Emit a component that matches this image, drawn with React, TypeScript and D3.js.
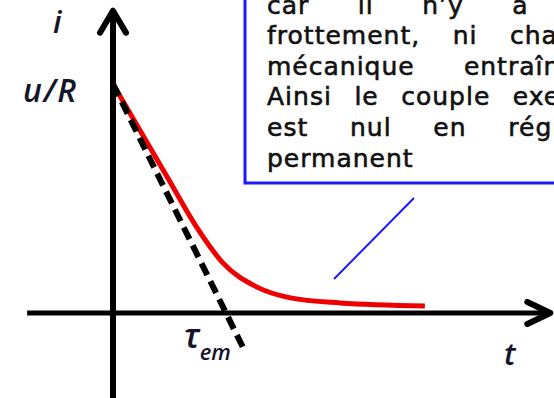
import React, { useEffect, useRef } from "react";
import * as d3 from "d3";

// Current response i(t) after a voltage step: read-off points of the drawn decay
const tValues = [0, 0.49, 0.74, 0.97, 1.27, 1.57, 2.01, 2.76];
const iValues = [1.0, 0.585, 0.375, 0.22, 0.114, 0.066, 0.044, 0.031];

// Tangent at the origin: i = u/R (1 - t / tau_em)
const tangentT = [0, 1.15];
const tangentI = [1, -0.15];

// Axis extents (in units of tau_em and u/R)
const tAxis = [-0.76, 3.87];
const iAxis = [-0.45, 1.32];

// Callout text, one array of words per justified line
const noteLines: string[][] = [
  ["car", "il", "n’y", "a", "ni"],
  ["frottement,", "ni", "charge"],
  ["mécanique", "entraînée."],
  ["Ainsi", "le", "couple", "exercé"],
  ["est", "nul", "en", "régime"],
  ["permanent"],
];

const W = 554;
const H = 398;

export default function App() {
  const ref = useRef<SVGSVGElement | null>(null);

  useEffect(() => {
    const svg = d3.select(ref.current);
    svg.selectAll("*").remove();

    const x = d3.scaleLinear().domain([0, 1]).range([113, 226]);
    const y = d3.scaleLinear().domain([0, 1]).range([313, 84]);

    // ---- callout box (extends beyond the top/right edges) ----
    const boxLeft = 245;
    const boxBottom = 183;
    const textLeft = 267;
    const textRight = 602;
    svg
      .append("rect")
      .attr("x", boxLeft)
      .attr("y", -20)
      .attr("width", 420)
      .attr("height", boxBottom + 20)
      .attr("fill", "#fff")
      .attr("stroke", "#1a1aff")
      .attr("stroke-width", 3);

    const noteG = svg
      .append("g")
      .attr("font-family", "'DejaVu Sans', Verdana, sans-serif")
      .attr("font-size", 25)
      .attr("letter-spacing", 1)
      .attr("fill", "#111")
      .attr("stroke", "#111")
      .attr("stroke-width", 0.6);

    noteLines.forEach((words, li) => {
      const baseline = 13.5 + li * 30.6;
      const nodes = words.map((w) =>
        noteG.append("text").attr("y", baseline).text(w)
      );
      const widths = nodes.map((n) => (n.node() as SVGTextElement).getBBox().width);
      const total = d3.sum(widths);
      const last = li === noteLines.length - 1;
      const gap =
        last || words.length < 2
          ? 8
          : (textRight - textLeft - total) / (words.length - 1);
      let cx = textLeft;
      nodes.forEach((n, k) => {
        n.attr("x", cx);
        cx += widths[k] + gap;
      });
    });

    // pointer from the callout to the steady-state part of the curve
    svg
      .append("line")
      .attr("x1", 414)
      .attr("y1", 198)
      .attr("x2", 334)
      .attr("y2", 279)
      .attr("stroke", "#1a1aff")
      .attr("stroke-width", 2);

    // ---- axes ----
    const axisG = svg
      .append("g")
      .attr("stroke", "#000")
      .attr("fill", "none")
      .attr("stroke-linecap", "round")
      .attr("stroke-linejoin", "round");

    const x0 = x(0);
    const y0 = y(0);
    const xEnd = x(tAxis[1]);
    const yTop = y(iAxis[1]);

    axisG
      .append("line")
      .attr("x1", x(tAxis[0]))
      .attr("y1", y0)
      .attr("x2", xEnd - 2)
      .attr("y2", y0)
      .attr("stroke-width", 5)
      .attr("stroke-linecap", "butt");
    axisG
      .append("path")
      .attr("d", `M${xEnd - 23},${y0 - 11} L${xEnd},${y0} L${xEnd - 23},${y0 + 11}`)
      .attr("stroke-width", 6);

    axisG
      .append("line")
      .attr("x1", x0)
      .attr("y1", y(iAxis[0]))
      .attr("x2", x0)
      .attr("y2", yTop + 2)
      .attr("stroke-width", 6)
      .attr("stroke-linecap", "butt");
    axisG
      .append("path")
      .attr("d", `M${x0 - 13},${yTop + 22} L${x0},${yTop} L${x0 + 13},${yTop + 22}`)
      .attr("stroke-width", 6);

    // ---- response curve ----
    const pts = tValues.map((t, k) => [t, iValues[k]] as [number, number]);
    const line = d3
      .line<[number, number]>()
      .x((d) => x(d[0]))
      .y((d) => y(d[1]))
      .curve(d3.curveMonotoneX);
    svg
      .append("path")
      .attr("d", line(pts))
      .attr("fill", "none")
      .attr("stroke", "#ee0000")
      .attr("stroke-width", 5)
      .attr("stroke-linecap", "butt");

    // ---- tangent at t = 0 ----
    const tan = tangentT.map((t, k) => [t, tangentI[k]] as [number, number]);
    svg
      .append("path")
      .attr("d", d3.line<[number, number]>().x((d) => x(d[0])).y((d) => y(d[1]))(tan))
      .attr("fill", "none")
      .attr("stroke", "#000")
      .attr("stroke-width", 6)
      .attr("stroke-dasharray", "13 7");

    // ---- labels ----
    const lab = svg
      .append("g")
      .attr("font-family", "'Open Sans', 'Noto Sans', sans-serif")
      .attr("font-style", "italic")
      .attr("font-weight", 600)
      .attr("fill", "#14142a");

    lab.append("text").attr("x", 53).attr("y", 33).attr("font-size", 31).text("i");
    lab
      .append("text")
      .attr("x", 23)
      .attr("y", y(1) + 18)
      .attr("font-size", 32)
      .attr("letter-spacing", 1.5)
      .text("u/R");
    lab.append("text").attr("x", 504).attr("y", y0 + 52).attr("font-size", 31).text("t");

    const tauLab = lab.append("text").attr("x", x(1) - 42).attr("y", y0 + 35);
    tauLab.append("tspan").attr("font-size", 34).text("τ");
    tauLab.append("tspan").attr("font-size", 22).attr("dy", 12).text("em");
  }, []);

  return (
    <svg
      ref={ref}
      width={W}
      height={H}
      viewBox={`0 0 ${W} ${H}`}
      style={{ position: "absolute", left: 0, top: 0, background: "#fff", overflow: "hidden" }}
    />
  );
}
